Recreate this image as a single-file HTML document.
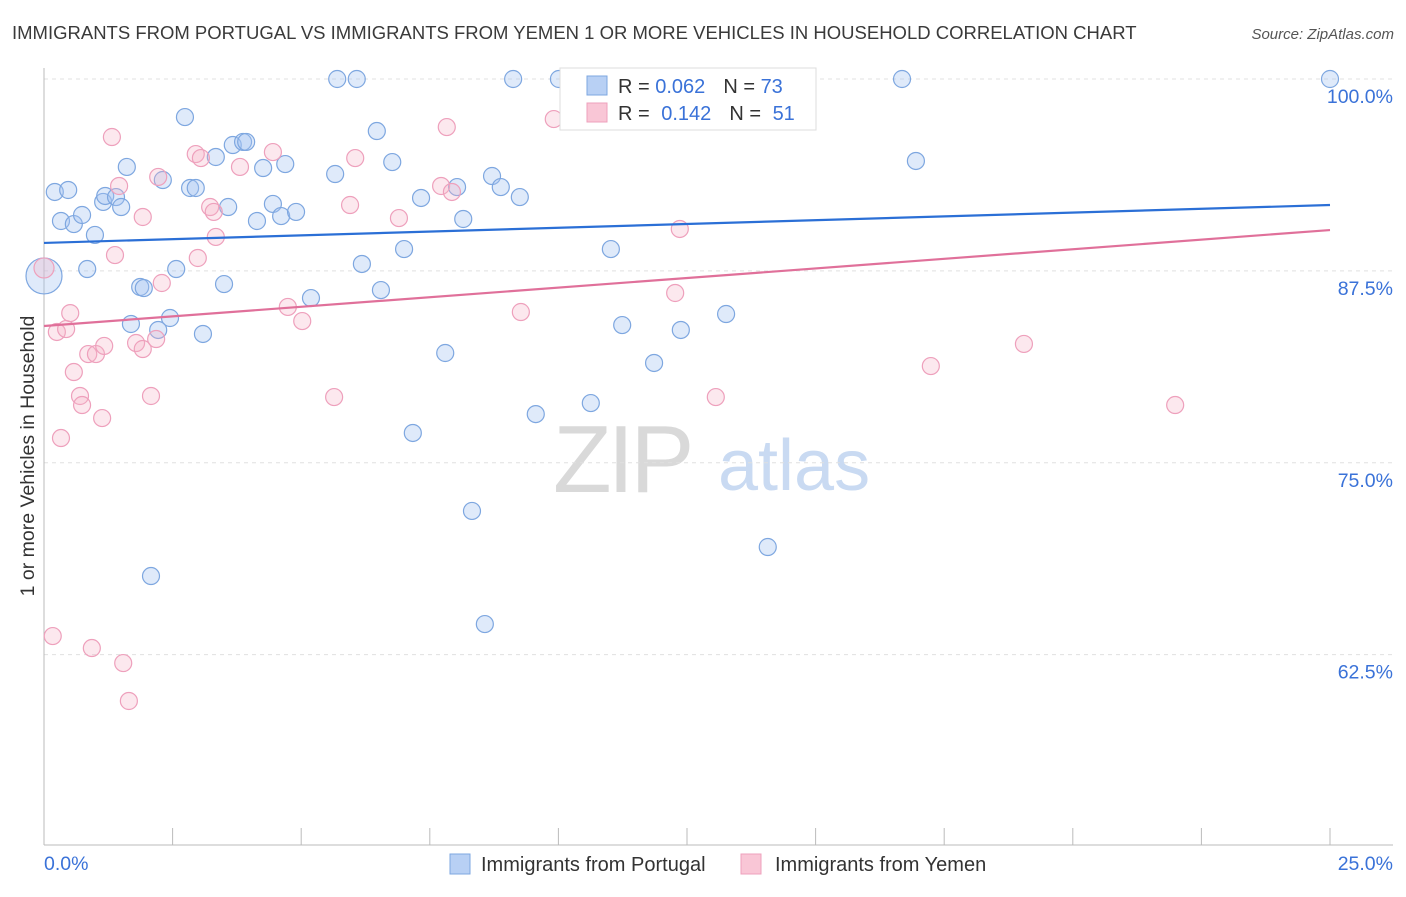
<!DOCTYPE html>
<html><head><meta charset="utf-8">
<style>
body{margin:0;background:#fff;font-family:"Liberation Sans",sans-serif;}
svg text{font-family:"Liberation Sans",sans-serif;}
</style></head>
<body>
<svg id="chart" width="1406" height="892" xmlns="http://www.w3.org/2000/svg">
<text x="12" y="39" font-size="18.5" fill="#3a3a3a">IMMIGRANTS FROM PORTUGAL VS IMMIGRANTS FROM YEMEN 1 OR MORE VEHICLES IN HOUSEHOLD CORRELATION CHART</text>
<text x="1394" y="39" font-size="15" fill="#555" font-style="italic" text-anchor="end">Source: ZipAtlas.com</text>
<g>
<text x="553" y="492" font-size="96" fill="#d9d9d9" font-family="Liberation Serif" letter-spacing="-4">ZIP</text>
<text x="718" y="490" font-size="72" fill="#c9daf2">atlas</text>
</g>
<text transform="translate(34,456) rotate(-90)" font-size="19.5" fill="#333" text-anchor="middle">1 or more Vehicles in Household</text>
<g id="grid"></g>
<g id="axes"></g>
<g id="marks"></g>
<g>
<rect x="560" y="68" width="256" height="62" fill="#fff" stroke="#ddd"/>
<rect x="587" y="76" width="20" height="19" fill="#b8d0f4" stroke="#7ea7e0"/>
<text x="618" y="93" font-size="20" fill="#333">R = <tspan fill="#3a72d8">0.062</tspan><tspan dx="18">N = </tspan><tspan fill="#3a72d8">73</tspan></text>
<rect x="587" y="103" width="20" height="19" fill="#f9c6d6" stroke="#eea0bc"/>
<text x="618" y="120" font-size="20" fill="#333">R = <tspan dx="6" fill="#3a72d8">0.142</tspan><tspan dx="18">N = </tspan><tspan dx="6" fill="#3a72d8">51</tspan></text>
</g>
<g>
<rect x="450" y="854" width="20" height="20" fill="#b8d0f4" stroke="#7ea7e0"/>
<text x="481" y="871" font-size="20" fill="#333">Immigrants from Portugal</text>
<rect x="741" y="854" width="20" height="20" fill="#f9c6d6" stroke="#eea0bc"/>
<text x="775" y="871" font-size="20" fill="#333">Immigrants from Yemen</text>
</g>
</svg>
<script>
const yTicks=[100,87.5,75,62.5];
const yTickLabels=["100.0%","87.5%","75.0%","62.5%"];
const xTicks=[0,2.5,5,7.5,10,12.5,15,17.5,20,22.5,25];
const xEndLabels=["0.0%","25.0%"];
const portugalX=[0,.21,.47,.33,.58,.74,.99,.84,1.15,1.19,1.40,1.50,1.61,1.87,1.94,1.69,2.22,2.45,2.31,2.57,2.74,2.84,2.95,3.09,3.34,3.50,3.58,3.67,3.87,3.93,4.14,4.26,4.45,4.61,4.69,4.90,5.19,5.66,5.70,6.08,6.18,6.47,6.55,6.77,7.00,7.17,7.33,7.80,8.03,8.15,8.32,8.57,8.71,8.88,9.12,9.25,9.56,10.01,10.63,11.02,11.24,11.72,11.86,12.38,13.26,13.72,13.86,14.07,16.68,16.95,25.0,2.08];
const portugalY=[87.17,92.64,92.77,90.75,90.55,91.14,89.84,87.62,91.99,92.38,92.31,91.66,94.27,86.45,86.38,84.04,83.65,84.43,93.42,87.62,97.52,92.90,92.90,83.39,94.92,86.64,91.66,95.70,95.90,95.90,90.75,94.20,91.86,91.07,94.46,91.34,85.73,93.81,100,100,87.95,96.61,86.25,94.59,88.92,76.94,92.25,82.15,92.96,90.88,71.86,64.49,93.68,92.96,100,92.31,78.17,100,78.89,88.92,83.97,98.57,81.50,83.65,84.69,98.96,100,69.51,100,94.66,100,67.62];
const yemenX=[0,.25,.43,.51,.33,.58,.70,.74,.86,1.01,1.13,1.17,1.32,1.38,1.46,1.79,1.92,1.92,2.08,2.18,2.22,2.29,2.95,2.99,3.05,3.23,3.30,3.34,3.81,4.45,4.74,5.02,5.64,5.95,6.05,6.90,7.72,7.83,7.93,9.27,9.91,12.27,12.36,13.06,17.24,19.05,21.99,.17,.93,1.54,1.65];
const yemenY=[87.69,83.52,83.71,84.75,76.61,80.91,79.35,78.76,82.08,82.08,77.91,82.61,96.22,88.53,93.03,82.80,91.01,82.41,79.35,83.06,93.62,86.71,95.11,88.34,94.85,91.66,91.34,89.71,94.27,95.24,85.15,84.23,79.28,91.79,94.85,90.94,93.03,96.87,92.64,84.82,97.39,86.06,90.23,79.28,81.30,82.74,78.76,63.71,62.93,61.95,59.48];
const portugalTrend=[89.32,91.79];
const yemenTrend=[83.91,90.16];
const NS="http://www.w3.org/2000/svg";
const xs=v=>44+v*51.44;
const ys=v=>79+(100-v)*15.35;
function mk(t,a,p){const e=document.createElementNS(NS,t);for(const k in a)e.setAttribute(k,a[k]);p.appendChild(e);return e;}
const grid=document.getElementById('grid'),axes=document.getElementById('axes'),marks=document.getElementById('marks');
yTicks.forEach((t,i)=>{
 const l=mk('line',{x1:44,x2:1393,y1:ys(t),y2:ys(t),stroke:'#e0e0e0','stroke-dasharray':'4,4'},grid);
 
 
 const tx=mk('text',{x:1393,y:ys(t)+24,'font-size':19.5,fill:'#3a72d8','text-anchor':'end'},axes);
 tx.textContent=yTickLabels[i];
 
 
});
const ya=mk('line',{x1:44,x2:44,y1:68,y2:845,stroke:'#bbb'},axes);


const xa=mk('line',{x1:44,x2:1393,y1:845,y2:845,stroke:'#bbb'},axes);


xTicks.forEach(t=>{const l=mk('line',{x1:xs(t),x2:xs(t),y1:828,y2:845,stroke:'#bbb'},axes);
 
 });
const x0=mk('text',{x:44,y:870,'font-size':19.5,fill:'#3a72d8'},axes);x0.textContent=xEndLabels[0];


const x1=mk('text',{x:1393,y:870,'font-size':19.5,fill:'#3a72d8','text-anchor':'end'},axes);x1.textContent=xEndLabels[1];


portugalX.forEach((v,i)=>{const c=mk('circle',{cx:xs(v),cy:ys(portugalY[i]),r:i===0?18:8.5,fill:'rgba(164,196,242,0.35)',stroke:'#7ea7e0','stroke-width':1.2},marks);
 
 });
yemenX.forEach((v,i)=>{const c=mk('circle',{cx:xs(v),cy:ys(yemenY[i]),r:i===0?10:8.5,fill:'rgba(246,178,200,0.3)',stroke:'#eea0bc','stroke-width':1.2},marks);
 
 });
const tb=mk('line',{x1:xs(0),x2:xs(25),y1:ys(portugalTrend[0]),y2:ys(portugalTrend[1]),stroke:'#2b6fd6','stroke-width':2.2},marks);


const tp=mk('line',{x1:xs(0),x2:xs(25),y1:ys(yemenTrend[0]),y2:ys(yemenTrend[1]),stroke:'#e0709a','stroke-width':2.2},marks);


</script>
</body></html>
